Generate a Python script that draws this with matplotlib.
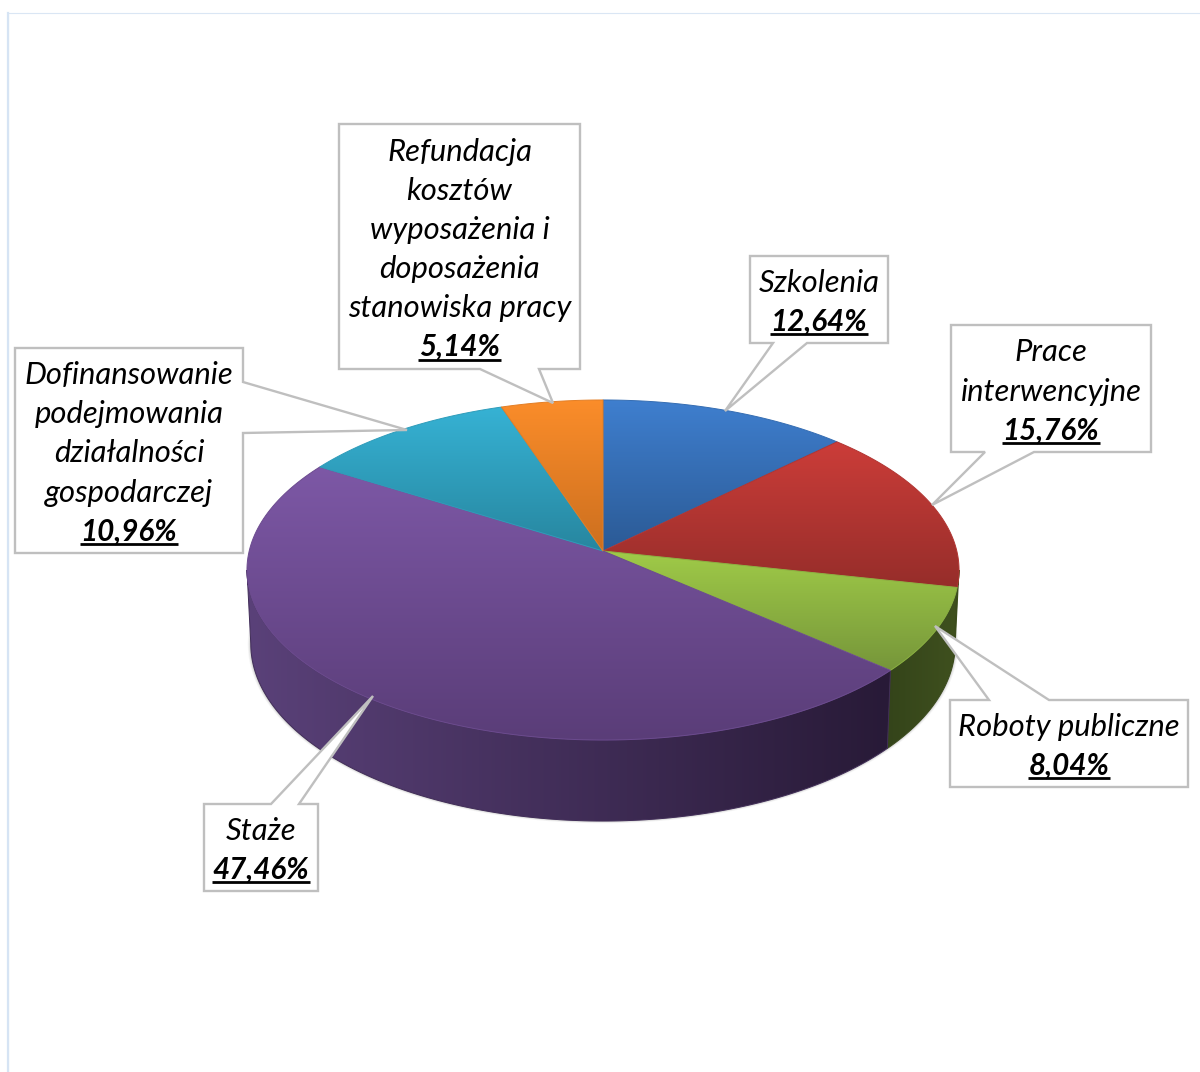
import numpy as np
from matplotlib import pyplot as plt
from matplotlib.patches import Polygon

# dane z wykresu
names = ['Szkolenia', 'Prace\ninterwencyjne', 'Roboty publiczne', 'Staże',
         'Dofinansowanie\npodejmowania\ndziałalności\ngospodarczej',
         'Refundacja\nkosztów\nwyposażenia i\ndoposażenia\nstanowiska pracy']
values = [12.64, 15.76, 8.04, 47.46, 10.96, 5.14]
pct_labels = ['12,64%', '15,76%', '8,04%', '47,46%', '10,96%', '5,14%']

# kolory gradientu: gora, dol plasterka
top_light = ['#3F7FCF', '#CC3D39', '#A0CB48', '#7D58A6', '#36B2D4', '#FB8D2A']
top_dark = ['#2B5A95', '#962D2A', '#76963A', '#5A3D78', '#27869F', '#CC6F1F']
side_left = ['#5A1E1C', '#3F501E', '#34441A', '#5A4179', '#1E6070', '#8A4A14']
side_right = ['#5A1E1C', '#3F501E', '#3F501E', '#281A37', '#1E6070', '#8A4A14']

# ramki opisow: x0, y0, x1, y1
boxes = [(750, 256, 888, 343), (951, 325, 1151, 452), (950, 700, 1188, 787),
         (204, 804, 318, 891), (15, 348, 243, 553), (339, 124, 580, 369)]
# wskazniki: punkt 1 na ramce, grot, punkt 2 na ramce
pointers = [((773, 343), (725, 411), (807, 343)),
            ((985, 452), (932, 505), (1034, 452)),
            ((989, 700), (935, 626), (1049, 700)),
            ((271, 804), (373, 696), (299, 804)),
            ((243, 382), (407, 430), (243, 433)),
            ((480, 369), (553, 403), (539, 369))]

FONT = 'Lato'
FS = 22.3
FS_PCT = 21.3
LINE = 39.2
BORDER = '#BFBFBF'

# geometria kola w perspektywie
CX = 603
CY_TOP, RX_TOP, RY_TOP = 551, 353.8, 167.9
CY_BOT, RX_BOT, RY_BOT = 624, 350, 175
K = 0.1118


def rim(angles, cy, rx, ry):
    w = 1 + K * np.cos(angles)
    return np.column_stack((CX + rx * np.sin(angles) / w, cy - ry * np.cos(angles) / w))


def gradient(ax, poly, c0, c1, vertical=True):
    # obraz z gradientem przyciety do wielokata
    x0, y0 = poly.min(axis=0)
    x1, y1 = poly.max(axis=0)
    c0 = np.array(plt.matplotlib.colors.to_rgb(c0))
    c1 = np.array(plt.matplotlib.colors.to_rgb(c1))
    t = np.linspace(0, 1, 256)[:, None]
    img = c0 * (1 - t) + c1 * t
    img = img[:, None, :] if vertical else img[None, :, :]
    patch = Polygon(poly, closed=True, fc='none', ec='none')
    ax.add_patch(patch)
    im = ax.imshow(img, extent=(x0, x1, y1, y0), aspect='auto', interpolation='bilinear', zorder=2)
    im.set_clip_path(patch)
    mid = (c0 + c1) / 2
    ax.add_patch(Polygon(poly, closed=True, fc='none', ec=mid, lw=0.7, zorder=2))


fig = plt.figure(figsize=(12, 10.72), dpi=100)
ax = fig.add_axes([0, 0, 1, 1])
ax.axis('off')

# cienka ramka tla
ax.plot([7.5, 7.5, 1200], [1072, 12.5, 12.5], color='#DAE6F4', lw=0.8, zorder=1)
ax.plot([7.5, 7.5], [1072, 13], color='#D6E4F4', lw=1.6, zorder=1)

edges = np.radians(np.concatenate(([0], np.cumsum(values))) * 3.6 * 100 / sum(values))

# miekki cien pod kolem
full = np.linspace(0, 2 * np.pi, 300)
for grow, alpha in zip([5, 3.5, 2, 1], [0.05, 0.07, 0.1, 0.14]):
    shadow = rim(full, CY_BOT, RX_BOT + grow * 0.6, RY_BOT + grow * 0.4)
    ax.add_patch(Polygon(shadow, closed=True, fc='#404040', ec='none', alpha=alpha, zorder=1.5))

# boki, tylko widoczny zakres katow (do stycznych po lewej i prawej)
tangent = np.arccos(-K)
for i in range(len(values)):
    a0 = max(edges[i], tangent)
    a1 = min(edges[i + 1], 2 * np.pi - tangent)
    if a0 >= a1:
        continue
    a = np.linspace(a0, a1, 150)
    poly = np.vstack((rim(a, CY_TOP, RX_TOP, RY_TOP), rim(a[::-1], CY_BOT, RX_BOT, RY_BOT)))
    gradient(ax, poly, side_left[i], side_right[i], vertical=False)

# gorna powierzchnia
for i in range(len(values)):
    a = np.linspace(edges[i], edges[i + 1], 150)
    poly = np.vstack(([[CX, CY_TOP]], rim(a, CY_TOP, RX_TOP, RY_TOP)))
    gradient(ax, poly, top_light[i], top_dark[i])

# opisy
renderer = fig.canvas.get_renderer()
ax.set_xlim(0, 1200)
ax.set_ylim(1072, 0)
for i in range(len(values)):
    x0, y0, x1, y1 = boxes[i]
    p1, tip, p2 = pointers[i]
    if p1[0] == x1:
        outline = [(x0, y0), (x1, y0), p1, tip, p2, (x1, y1), (x0, y1)]
    elif p1[1] == y0:
        outline = [(x0, y0), p1, tip, p2, (x1, y0), (x1, y1), (x0, y1)]
    else:
        outline = [(x0, y0), (x1, y0), (x1, y1), p2, tip, p1, (x0, y1)]
    ax.add_patch(Polygon(outline, closed=True, fc='white', ec=BORDER, lw=1.7, joinstyle='miter', zorder=3))

    lines = names[i].split('\n')
    xc = (x0 + x1) / 2
    n = len(lines) + 1
    ys = (y0 + y1) / 2 + (np.arange(n) - (n - 1) / 2) * LINE
    for line, y in zip(lines, ys):
        ax.text(xc, y + 0.5, line, family=FONT, style='italic', fontsize=FS, ha='center', va='center_baseline',
                color='black', zorder=4)
    pct = ax.text(xc, ys[-1], pct_labels[i], family=FONT, style='italic', weight='bold', fontsize=FS_PCT,
                  ha='center', va='center_baseline', color='black', zorder=4)
    bb = pct.get_window_extent(renderer)
    ax.plot([bb.x0 - 1, bb.x1 + 1], [ys[-1] + 15, ys[-1] + 15], color='black', lw=2, solid_capstyle='butt', zorder=4)

ax.set_xlim(0, 1200)
ax.set_ylim(1072, 0)
fig.savefig('out.png', dpi=100, facecolor='white')
